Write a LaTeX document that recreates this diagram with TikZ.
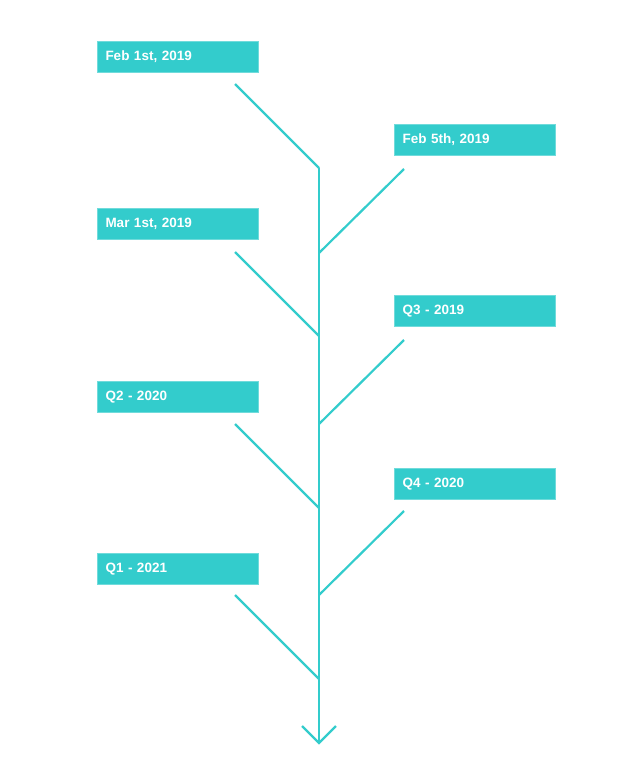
\documentclass[tikz,border=0pt]{standalone}
\usepackage{fontspec}
\setmainfont{Liberation Sans}
\usetikzlibrary{positioning}
\definecolor{teal}{HTML}{33CCCC}
\tikzset{
    x=1pt,y=-1pt,
    stem/.style = {draw=teal, line width=2.2pt},
    tag/.style = {fill=teal, draw=teal!70!white, line width=1pt, minimum width=161pt,
        minimum height=31pt, text=white, font=\fontsize{13.5}{16}\selectfont\bfseries,
        anchor=north west, align=left, text width=145pt, inner xsep=7pt}
}
\begin{document}
\begin{tikzpicture}
    \useasboundingbox (0,0) rectangle (640,763);

    % labels
    \node[tag] (feb1) at (97,41) {Feb 1st, 2019};
    \node[tag] (feb5) at (394,124) {Feb 5th, 2019};
    \node[tag] (mar1) at (97,208) {Mar 1st, 2019};
    \node[tag] (q319) at (394,295) {Q3 - 2019};
    \node[tag] (q220) at (97,381) {Q2 - 2020};
    \node[tag] (q420) at (394,468) {Q4 - 2020};
    \node[tag] (q121) at (97,553) {Q1 - 2021};

    % branch ends
    \coordinate (b1) at (235,84);   \coordinate (s1) at (319,168);
    \coordinate (b2) at (404,169);  \coordinate (s2) at (319,253);
    \coordinate (b3) at (235,252);  \coordinate (s3) at (319,336);
    \coordinate (b4) at (404,340);  \coordinate (s4) at (319,424);
    \coordinate (b5) at (235,424);  \coordinate (s5) at (319,508);
    \coordinate (b6) at (404,511);  \coordinate (s6) at (319,595);
    \coordinate (b7) at (235,595);  \coordinate (s7) at (319,679);
    \coordinate (tip) at (319,743);

    % trunk
    \draw[stem] (s1) -- (tip);
    \draw[stem] (302,726) -- (tip) -- (336,726);

    % branches
    \draw[stem] (b1) -- (s1);
    \draw[stem] (b2) -- (s2);
    \draw[stem] (b3) -- (s3);
    \draw[stem] (b4) -- (s4);
    \draw[stem] (b5) -- (s5);
    \draw[stem] (b6) -- (s6);
    \draw[stem] (b7) -- (s7);

\end{tikzpicture}
\end{document}
